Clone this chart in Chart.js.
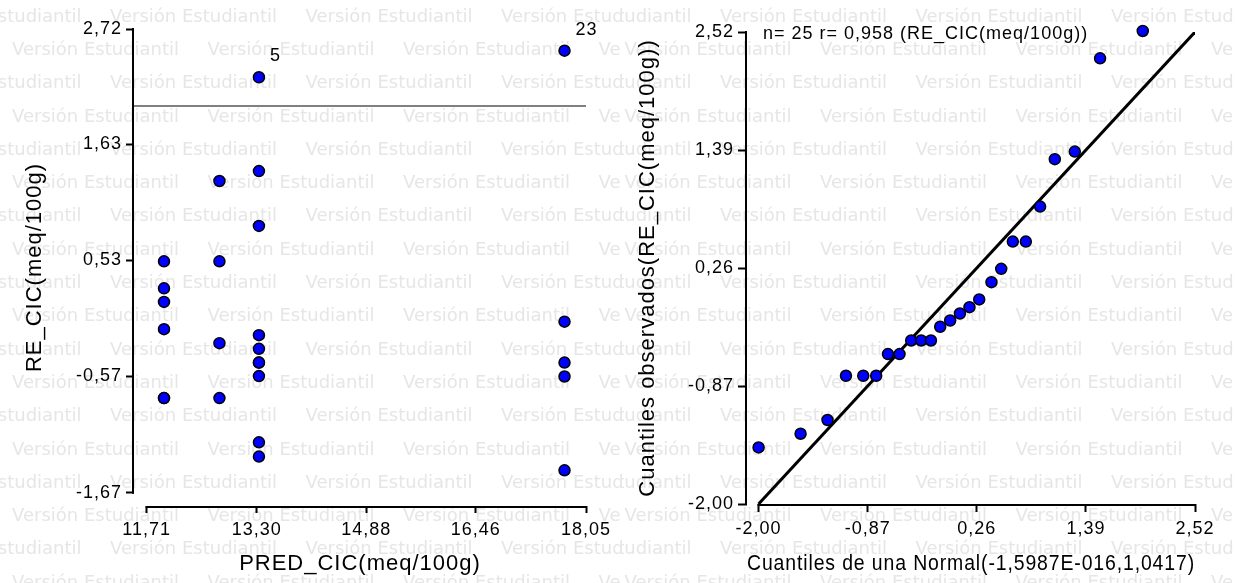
<!DOCTYPE html>
<html>
<head>
<meta charset="utf-8">
<script src="https://cdn.jsdelivr.net/npm/chart.js@4.4.1/dist/chart.umd.min.js"></script>
<style>
  html, body { margin: 0; padding: 0; background: #fff; }
  #wrap { position: relative; width: 1247px; height: 583px; overflow: hidden; background: #fff; }
  #resid { position: absolute; left: 0; top: 0; }
  #qq { position: absolute; left: 622px; top: 0; }
</style>
</head>
<body>
<div id="wrap">
  <canvas id="resid" width="622" height="583"></canvas>
  <canvas id="qq" width="611" height="583"></canvas>
</div>
<script>
const FONT = "'Liberation Sans', Arial, sans-serif";
const WATERMARK = "Versión Estudiantil";

// Residuals vs predicted
const predCIC = [
  11.96, 11.96, 11.96, 11.96, 11.96, 11.96,
  12.76, 12.76, 12.76, 12.76,
  13.33, 13.33, 13.33, 13.33, 13.33, 13.33, 13.33, 13.33, 13.33, 13.33,
  17.74, 17.74, 17.74, 17.74, 17.74,
];
const residCIC = [
  0.52, 0.265, 0.136, -0.122, -0.774, -0.774,
  1.281, 0.52, -0.254, -0.774,
  2.263, 1.375, 0.856, -0.179, -0.308, -0.438, -0.438, -0.566, -1.193, -1.328,
  2.515, -0.051, -0.438, -0.570, -1.458,
];
const residCaseLabels = [
  null, null, null, null, null, null,
  null, null, null, null,
  "5", null, null, null, null, null, null, null, null, null,
  "23", null, null, null, null,
];
const residCutoff = 1.99;
const residXTicks = [11.71, 13.30, 14.88, 16.46, 18.05];
const residYTicks = [-1.67, -0.57, 0.53, 1.63, 2.72];

// Normal QQ plot
const qqNormal = [
  -2.00, -1.565, -1.286, -1.095, -0.916, -0.782, -0.660, -0.540, -0.419, -0.316,
  -0.215, -0.119, -0.016, 0.085, 0.184, 0.285, 0.412, 0.513, 0.633, 0.768,
  0.916, 1.068, 1.275, 1.537, 1.979,
];
const qqObserved = [
  -1.458, -1.327, -1.196, -0.772, -0.772, -0.772, -0.564, -0.564, -0.434, -0.434,
  -0.434, -0.303, -0.243, -0.176, -0.115, -0.041, 0.124, 0.252, 0.513, 0.513,
  0.848, 1.302, 1.375, 2.268, 2.53,
];
const qqLine = [-2.00, 2.52];
const qqXTicks = [-2.00, -0.87, 0.26, 1.39, 2.52];
const qqYTicks = [-2.00, -0.87, 0.26, 1.39, 2.52];
const qqNote = "n= 25 r= 0,958 (RE_CIC(meq/100g))";

const fmt = (v) => Number(v).toFixed(2).replace(".", ",");

// canvas text in the reference is a bit loose, so add a pixel between letters
const spacing = {
  id: "spacing",
  beforeLayout(chart) { chart.ctx.letterSpacing = "1px"; },
  beforeDraw(chart) { chart.ctx.letterSpacing = "1px"; },
};

const watermark = {
  id: "watermark",
  beforeDraw(chart, args, o) {
    const { ctx, width, height } = chart;
    ctx.save();
    ctx.letterSpacing = "0px";
    ctx.fillStyle = "#e6e6e6";
    ctx.font = "18px 'DejaVu Sans'";
    ctx.textBaseline = "middle";
    ctx.textAlign = "left";
    for (let i = 0; i * 33.3 < height + 20; i++) {
      const y = 17 + i * 33.3;
      let x = i % 2 === 0 ? o.even : o.odd;
      for (; x < width; x += 195.5) ctx.fillText(WATERMARK, x, y);
    }
    ctx.restore();
  },
};

const axisLines = {
  id: "axisLines",
  beforeDatasetsDraw(chart) {
    const { ctx, chartArea } = chart;
    const xs = chart.scales.x, ys = chart.scales.y;
    const xt = xs.ticks, yt = ys.ticks;
    ctx.save();
    ctx.strokeStyle = "#000";
    ctx.lineWidth = 2;
    ctx.beginPath();
    ctx.moveTo(chartArea.left - 1, ys.getPixelForValue(yt[yt.length - 1].value) - 1);
    ctx.lineTo(chartArea.left - 1, ys.getPixelForValue(yt[0].value) + 1);
    ctx.moveTo(xs.getPixelForValue(xt[0].value) - 1, chartArea.bottom + 1);
    ctx.lineTo(xs.getPixelForValue(xt[xt.length - 1].value) + 1, chartArea.bottom + 1);
    ctx.stroke();
    ctx.restore();
  },
};

const notes = {
  id: "notes",
  afterDatasetsDraw(chart, args, o) {
    const { ctx, chartArea } = chart;
    ctx.save();
    ctx.fillStyle = "#000";
    ctx.font = "18px " + FONT;
    ctx.textBaseline = "middle";
    ctx.textAlign = "left";
    if (o.labels) {
      const meta = chart.getDatasetMeta(0);
      o.labels.forEach((lab, i) => {
        if (!lab) return;
        const el = meta.data[i];
        ctx.fillText(lab, el.x + 11, el.y - 21);
      });
    }
    if (o.text) ctx.fillText(o.text, chartArea.left + 16, chartArea.top + 2);
    ctx.restore();
  },
};

const axis = (ticksArr, min, max, size, o) => ({
  type: "linear",
  min,
  max,
  afterBuildTicks: (s) => { s.ticks = ticksArr.map((v) => ({ value: v })); },
  afterFit: (s) => {
    if (s.isHorizontal()) s.height = size;
    else s.width = size;
  },
  ticks: {
    callback: (v) => fmt(v),
    color: "#000",
    font: { family: FONT, size: 18 },
    padding: o.tickPad,
    autoSkip: false,
    maxRotation: 0,
  },
  grid: {
    drawOnChartArea: false,
    drawTicks: true,
    tickLength: o.tickLen,
    tickWidth: 2,
    tickColor: "#000",
  },
  border: { display: false },
  title: {
    display: true,
    text: o.title,
    color: "#000",
    font: { family: FONT, size: 22 },
    padding: o.titlePad,
  },
});

const pointStyle = {
  pointRadius: 5.5,
  pointBackgroundColor: "#0000ff",
  pointBorderColor: "#000",
  pointBorderWidth: 1.5,
};

const residXMin = 11.527;

new Chart(document.getElementById("resid"), {
  type: "scatter",
  data: {
    datasets: [
      {
        data: predCIC.map((x, i) => ({ x, y: residCIC[i] })),
        ...pointStyle,
        clip: false,
        order: 0,
      },
      {
        type: "line",
        data: [
          { x: residXMin, y: residCutoff },
          { x: residXTicks[residXTicks.length - 1], y: residCutoff },
        ],
        borderColor: "#808080",
        borderWidth: 2,
        pointRadius: 0,
        order: 1,
      },
    ],
  },
  options: {
    responsive: false,
    animation: false,
    events: [],
    layout: { padding: { top: 29, right: 36, left: 0, bottom: 0 } },
    plugins: {
      legend: { display: false },
      tooltip: { enabled: false },
      watermark: { even: -85.5, odd: 12 },
      notes: { labels: residCaseLabels },
    },
    scales: {
      x: axis(residXTicks, residXMin, 18.05, 77, {
        tickPad: 6, tickLen: 7, title: "PRED_CIC(meq/100g)", titlePad: { top: 0, bottom: 6 },
      }),
      y: axis(residYTicks, -1.796, 2.72, 134, {
        tickPad: 4, tickLen: 8, title: "RE_CIC(meq/100g)", titlePad: { top: 22, bottom: 0 },
      }),
    },
  },
  plugins: [spacing, watermark, axisLines, notes],
});

new Chart(document.getElementById("qq"), {
  type: "scatter",
  data: {
    datasets: [
      {
        data: qqNormal.map((x, i) => ({ x, y: qqObserved[i] })),
        ...pointStyle,
        clip: false,
        order: 0,
      },
      {
        type: "line",
        data: qqLine.map((v) => ({ x: v, y: v })),
        borderColor: "#000",
        borderWidth: 3,
        pointRadius: 0,
        order: 1,
      },
    ],
  },
  options: {
    responsive: false,
    animation: false,
    events: [],
    layout: { padding: { top: 32, right: 38, left: 0, bottom: 0 } },
    plugins: {
      legend: { display: false },
      tooltip: { enabled: false },
      watermark: { even: -97.5, odd: 2.5 },
      notes: { text: qqNote },
    },
    scales: {
      x: axis(qqXTicks, -2.12, 2.52, 79, {
        tickPad: 6, tickLen: 8, title: "Cuantiles de una Normal(-1,5987E-016,1,0417)", titlePad: { top: 0, bottom: 6 },
      }),
      y: axis(qqYTicks, -2.00, 2.52, 125, {
        tickPad: 4, tickLen: 9, title: "Cuantiles observados(RE_CIC(meq/100g))", titlePad: { top: 13, bottom: 0 },
      }),
    },
  },
  plugins: [spacing, watermark, axisLines, notes],
});
</script>
</body>
</html>
